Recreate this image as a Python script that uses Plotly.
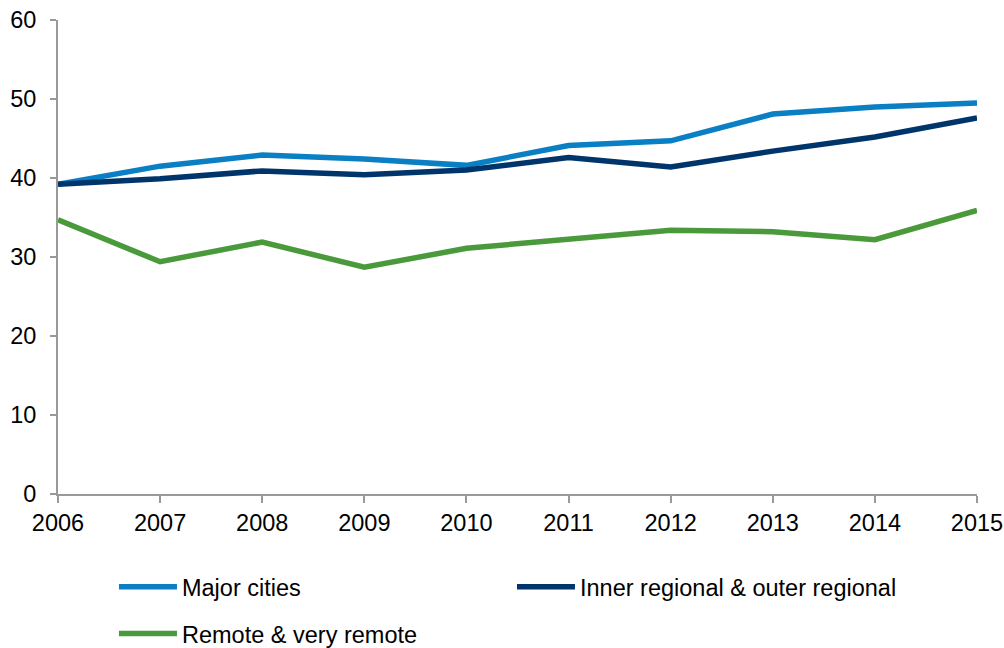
import plotly.graph_objects as go

years = [2006, 2007, 2008, 2009, 2010, 2011, 2012, 2013, 2014, 2015]
major_cities = [39.2, 41.5, 42.9, 42.4, 41.6, 44.1, 44.7, 48.1, 49.0, 49.5]
inner_outer_regional = [39.2, 39.9, 40.9, 40.4, 41.0, 42.6, 41.4, 43.4, 45.2, 47.6]
remote_very_remote = [34.7, 29.4, 31.9, 28.7, 31.1, 32.2, 33.4, 33.2, 32.2, 35.9]

series_names = ["Major cities", "Inner regional & outer regional", "Remote & very remote"]
colors = ["#0A7FC4", "#00356B", "#4A9A3C"]

fig = go.Figure()
for name, vals, col, lg in zip(series_names,
                               [major_cities, inner_outer_regional, remote_very_remote],
                               colors, ["legend", "legend2", "legend3"]):
    fig.add_trace(go.Scatter(x=years, y=vals, mode="lines", name=name,
                             line=dict(color=col, width=5.5), legend=lg))

font = dict(family="Liberation Sans, Arial, sans-serif", size=23.5, color="#000000")
leg_common = dict(yanchor="middle", xanchor="left", font=font, itemwidth=58,
                  bgcolor="rgba(0,0,0,0)")
fig.update_layout(
    width=1004, height=648,
    margin=dict(l=58, r=27, t=20, b=154, autoexpand=False),
    plot_bgcolor="white", paper_bgcolor="white",
    font=font,
    xaxis=dict(range=[2006, 2015], tickvals=years, ticktext=[str(y) for y in years],
               showline=True, linecolor="#999999", linewidth=2, ticks="outside",
               tickcolor="#999999", ticklen=7, tickwidth=2, showgrid=False, zeroline=False,
               tickfont=font, automargin=False, ticklabeloverflow="allow"),
    yaxis=dict(range=[0, 60], dtick=10, showline=True, linecolor="#999999", linewidth=2,
               ticks="outside", tickcolor="#999999", ticklen=6, tickwidth=2,
               showgrid=False, zeroline=False, tickfont=font, automargin=False,
               ticklabelstandoff=9, ticklabeloverflow="allow"),
    legend=dict(x=0.0609, y=-0.196, **leg_common),
    legend2=dict(x=0.494, y=-0.196, **leg_common),
    legend3=dict(x=0.0609, y=-0.295, **leg_common),
    showlegend=True,
)
fig.write_html(
    "out.html",
    config={"displayModeBar": False},
    post_script="document.body.style.margin='0';document.body.style.overflow='hidden';",
)
